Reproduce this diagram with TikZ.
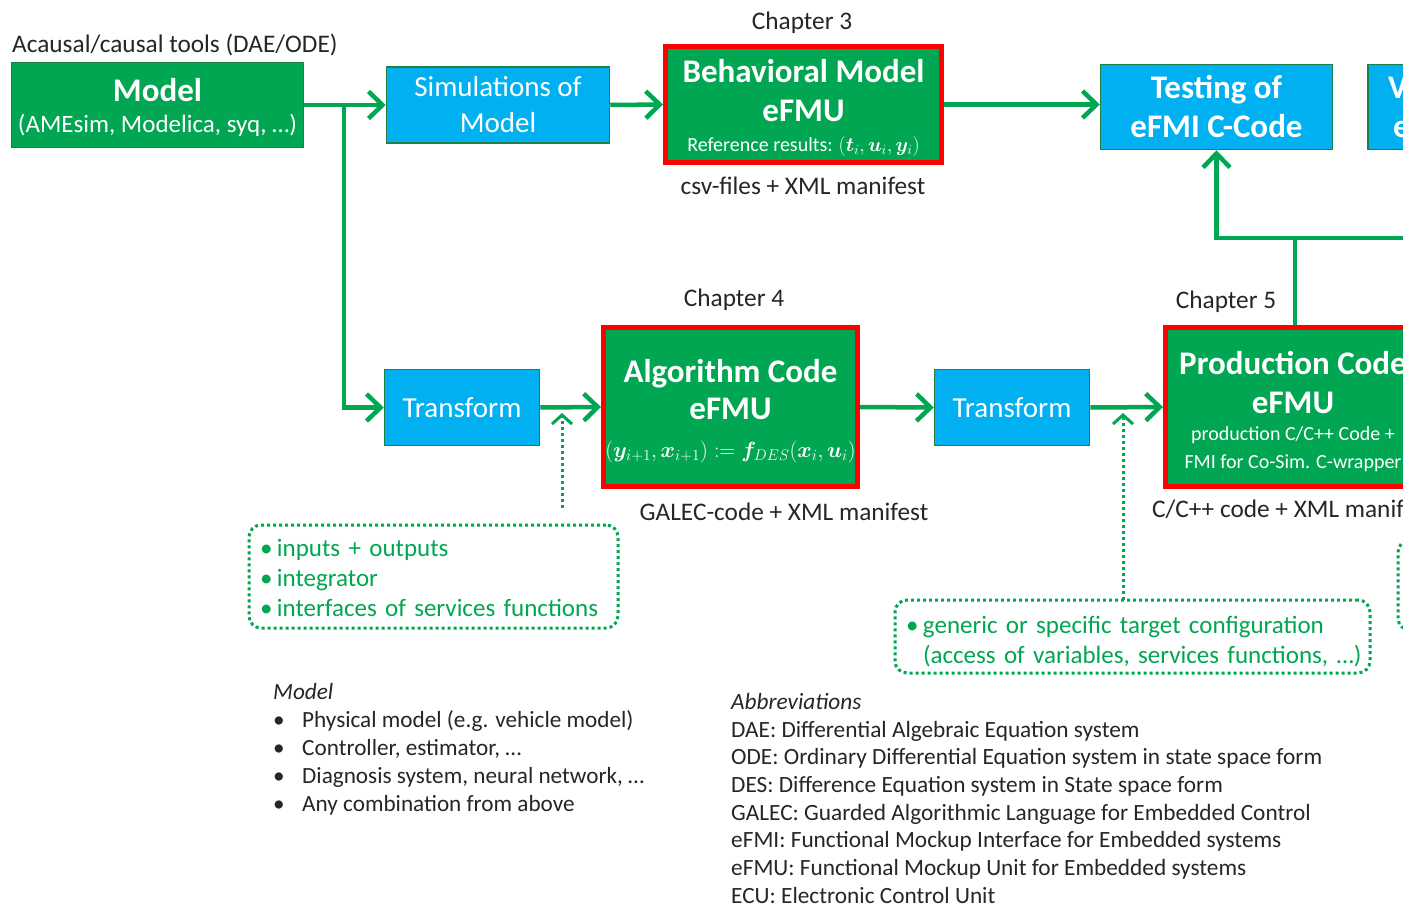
\RequirePackage{fix-cm}
\documentclass[tikz,border=0pt]{standalone}
\usepackage{fontspec}
\setmainfont{Carlito}
\usepackage{bm}
\usetikzlibrary{arrows.meta}
\definecolor{efgreen}{HTML}{00A651}
\definecolor{efwire}{HTML}{00A651}
\definecolor{efborder}{HTML}{1E8048}
\definecolor{efblue}{HTML}{00B0F0}
\definecolor{efred}{HTML}{FF0000}
\definecolor{eftext}{HTML}{262626}
\tikzset{
  greenbox/.style={draw=efborder, line width=1.5pt, fill=efgreen, text=white, align=center, inner sep=0pt},
  bluebox/.style={draw=efborder, line width=1.5pt, fill=efblue, text=white, align=center, inner sep=0pt},
  redbox/.style={draw=efred, line width=5pt, fill=efgreen, text=white, align=center, inner sep=0pt},
  conn/.style={draw=efwire, line width=4.5pt, -{Straight Barb[length=14pt,width=27pt]}},
  wire/.style={draw=efwire, line width=4.5pt},
  dotconn/.style={draw=efwire, line width=3pt, dash pattern=on 3pt off 3pt, -{Straight Barb[length=9pt,width=20pt,line width=3pt]}},
  dotbox/.style={draw=efwire, line width=3pt, dash pattern=on 3pt off 3pt, rounded corners=12pt, text=efgreen, align=left, inner xsep=11pt, inner ysep=0pt},
  lbl/.style={text=eftext, inner sep=0pt, font=\fontsize{25.3}{30}\selectfont},
}
\newcommand{\gbul}{\makebox[17pt][l]{•}}
\newcommand{\bbul}{\makebox[29pt][l]{•}}
\newcommand{\bigbold}[1]{{\fontsize{33}{33}\selectfont\bfseries #1}}
\begin{document}
\begin{tikzpicture}[x=1pt,y=-1pt]
\useasboundingbox (0,0) rectangle (1403,905);
\fill[white] (0,0) rectangle (1403,905);
\clip (0,0) rectangle (1403,905);

% top row
\node[greenbox, minimum width=292pt, minimum height=85pt, font=\fontsize{25}{31}\selectfont] (model) at (157.5,105)
  {\rule{0pt}{29pt}\bigbold{Model}\\(AMEsim, Modelica, syq, …)};
\node[lbl, anchor=west] (acausal) at (12,45.5) {Acausal/causal tools (DAE/ODE)};

\node[bluebox, minimum width=223pt, minimum height=76pt, font=\fontsize{29}{36}\selectfont] (sim) at (498,105)
  {Simulations of\\Model};

\node[redbox, minimum width=276pt, minimum height=116pt, font=\fontsize{20}{30}\selectfont] (beh) at (803.5,104.5)
  {\rule{0pt}{30pt}\bigbold{Behavioral Model}\\[9pt]\bigbold{eFMU}\\Reference results: $(\bm{t}_i,\bm{u}_i,\bm{y}_i)$};
\node[lbl] (ch3) at (802,23) {Chapter 3};
\node[lbl] (csv) at (803,186) {csv-files + XML manifest};

\node[bluebox, minimum width=232pt, minimum height=85pt, font=\fontsize{33}{39}\selectfont\bfseries] (test) at (1216.5,107)
  {Testing of\\eFMI C-Code};
\node[bluebox, minimum width=232pt, minimum height=85pt, font=\fontsize{33}{39}\selectfont\bfseries, align=left, text width=192pt, inner xsep=20pt] (vbox) at (1484,107)
  {V\\\hspace*{5pt}e};

% middle row
\node[bluebox, minimum width=155pt, minimum height=76pt, font=\fontsize{29}{35}\selectfont] (t1) at (462,407.5) {Transform};

\node[redbox, minimum width=254pt, minimum height=159pt, font=\fontsize{22}{37.5}\selectfont] (alg) at (730.5,407)
  {\rule{0pt}{31pt}\bigbold{Algorithm Code}\\\bigbold{eFMU}\\$(\bm{y}_{i+1},\bm{x}_{i+1}) := \bm{f}_{DES}(\bm{x}_i,\bm{u}_i)$};
\node[lbl] (ch4) at (734,300) {Chapter 4};
\node[lbl] (galec) at (784,512) {GALEC-code + XML manifest};

\node[bluebox, minimum width=155pt, minimum height=76pt, font=\fontsize{29}{35}\selectfont] (t2) at (1012,407.5) {Transform};

\node[redbox, minimum width=255pt, minimum height=159pt, font=\fontsize{20}{27.5}\selectfont] (prod) at (1293,407)
  {\rule{0pt}{32pt}\bigbold{Production Code}\\[11.5pt]\bigbold{eFMU}\\production C/C++ Code +\\FMI for Co-Sim. C-wrapper};
\node[lbl] (ch5) at (1226,302) {Chapter 5};
\node[lbl, anchor=west] (ccode) at (1152,509) {C/C++ code + XML manifest};

% dotted boxes
\node[dotbox, minimum width=369pt, minimum height=103pt, text width=347pt, font=\fontsize{25}{30}\selectfont] (box1) at (433.5,576.5)
  {\mbox{\rule{0pt}{21pt}\gbul inputs + outputs}\\\mbox{\gbul integrator}\\\mbox{\gbul interfaces of services functions}};
\node[dotbox, minimum width=475pt, minimum height=73pt, text width=453pt, font=\fontsize{25}{30}\selectfont] (box2) at (1132.5,636.5)
  {\mbox{\rule{0pt}{27pt}\gbul generic or specific target configuration}\\\mbox{\hspace*{17pt}(access of variables, services functions, …)}};
\node[dotbox, minimum width=200pt, minimum height=90pt] (box3) at (1498,585) {};

% connectors
\coordinate (br) at (344,105);
\draw[conn] (model.east) -- (sim.west);
\draw[conn] (br) |- (t1.west);
\draw[conn] (sim.east) -- (beh.west);
\draw[conn] (beh.east) -- (beh.east -| test.west);
\draw[conn] (t1.east) -- (alg.west);
\draw[conn] (alg.east) -- (t2.west);
\draw[conn] (t2.east) -- (prod.west);
\coordinate (jn) at (1295,238);
\coordinate (jr) at (1430,238);
\draw[wire] (jn |- prod.north) -- (jn) -- (jr);
\draw[conn] (jn) -| (test.south);

\coordinate (d1s) at (562,508);
\coordinate (d1e) at (562,413);
\draw[dotconn] (d1s) -- (d1e);
\coordinate (d2s) at (1123,600);
\coordinate (d2e) at (1123,413);
\draw[dotconn] (d2s) -- (d2e);

% bottom texts
\node[text=eftext, inner sep=0pt, anchor=north west, align=left, font=\fontsize{23.2}{28}\selectfont] (modellist) at (273,683)
  {\textit{Model}\\\bbul Physical model (e.g. vehicle model)\\\bbul Controller, estimator, …\\\bbul Diagnosis system, neural network, …\\\bbul Any combination from above};
\node[text=eftext, inner sep=0pt, anchor=north west, align=left, font=\fontsize{23.3}{27.7}\selectfont] (abbr) at (731,693)
  {\textit{Abbreviations}\\DAE: Differential Algebraic Equation system\\ODE: Ordinary Differential Equation system in state space form\\DES: Difference Equation system in State space form\\GALEC: Guarded Algorithmic Language for Embedded Control\\eFMI: Functional Mockup Interface for Embedded systems\\eFMU: Functional Mockup Unit for Embedded systems\\ECU: Electronic Control Unit};
\end{tikzpicture}
\end{document}
